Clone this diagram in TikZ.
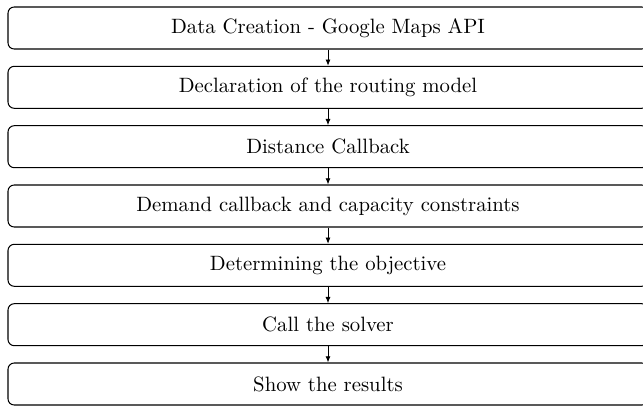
\documentclass[tikz,border=0pt]{standalone}
\usetikzlibrary{arrows.meta}
\begin{document}
\begin{tikzpicture}[x=0.482pt,y=-0.482pt,
  stage/.style={draw, rounded corners=3pt, line width=0.5pt,
    minimum width=640*0.482pt, minimum height=42*0.482pt,
    inner sep=0pt, font=\normalsize},
  flow/.style={-{Latex[length=3pt,width=2.4pt]}, line width=0.4pt}]
\useasboundingbox (0,0) rectangle (643,406);
\node[stage] (s1) at (328,28) {Data Creation - Google Maps API};
\node[stage] (s2) at (328,87.3) {Declaration of the routing model};
\node[stage] (s3) at (328,146.7) {Distance Callback};
\node[stage] (s4) at (328,206) {Demand callback and capacity constraints};
\node[stage] (s5) at (328,265.3) {Determining the objective};
\node[stage] (s6) at (328,324.7) {Call the solver};
\node[stage] (s7) at (328,384) {Show the results};
\foreach \a/\b in {s1/s2,s2/s3,s3/s4,s4/s5,s5/s6,s6/s7}
  \draw[flow] (\a.south) -- (\b.north);
\end{tikzpicture}
\end{document}
